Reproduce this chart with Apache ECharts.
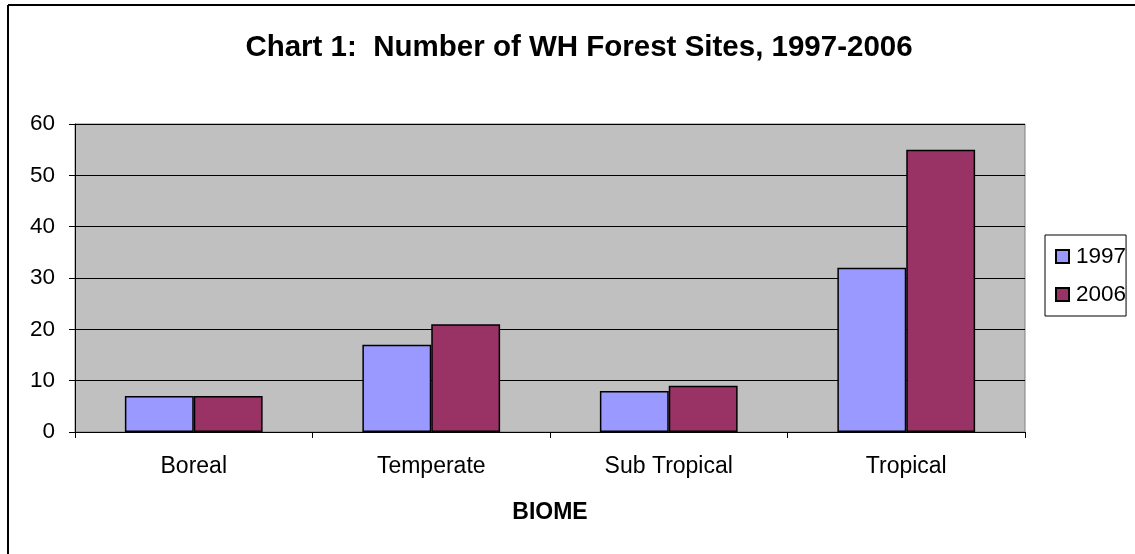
<!DOCTYPE html>
<html>
<head>
<meta charset="utf-8">
<script src="https://cdn.jsdelivr.net/npm/echarts@6/dist/echarts.min.js"></script>
<style>
  html, body { margin: 0; padding: 0; background: #fff; }
  #chart { width: 1135px; height: 554px; }
</style>
</head>
<body>
<div id="chart"></div>
<script>
// data
const biomes = ['Boreal', 'Temperate', 'Sub Tropical', 'Tropical']
const sites1997 = [7, 17, 8, 32]
const sites2006 = [7, 21, 9, 55]
const yTicks = [0, 10, 20, 30, 40, 50, 60]

const font = '"Liberation Sans", Arial, sans-serif'
const myChart = echarts.init(document.getElementById('chart'))

const option = {
  animation: false,
  backgroundColor: '#fff',
  title: {
    text: 'Chart 1:  Number of WH Forest Sites, 1997-2006',
    left: 574,
    top: 28,
    textAlign: 'center',
    textStyle: { fontFamily: font, fontSize: 29.5, fontWeight: 'bold', color: '#000' }
  },
  // outer frame, only left and top edges show in the picture
  graphic: [
    { type: 'line', shape: { x1: 8, y1: 5, x2: 1135, y2: 5 }, style: { stroke: '#000', lineWidth: 2 } },
    { type: 'line', shape: { x1: 8, y1: 5, x2: 8, y2: 554 }, style: { stroke: '#000', lineWidth: 2 } }
  ],
  legend: {
    orient: 'vertical',
    left: 1045,
    top: 235,
    padding: [10, 0, 10, 10],
    itemGap: 15,
    itemWidth: 13,
    itemHeight: 13,
    borderColor: '#000',
    borderWidth: 1,
    backgroundColor: '#fff',
    icon: 'rect',
    textStyle: { fontFamily: font, fontSize: 22.5, color: '#000', padding: [0, 0, 0, 2] },
    data: ['1997', '2006']
  },
  grid: { left: 75, right: 110, top: 124, bottom: 122, containLabel: false,
    show: true, backgroundColor: '#c0c0c0', borderColor: '#808080', borderWidth: 1 },
  xAxis: {
    type: 'category',
    data: biomes,
    name: 'BIOME',
    nameLocation: 'middle',
    nameGap: 69,
    nameTextStyle: { fontFamily: font, fontSize: 23, fontWeight: 'bold', color: '#000' },
    axisLine: { lineStyle: { color: '#000', width: 1 } },
    axisTick: { show: true, length: 6, lineStyle: { color: '#000' } },
    axisLabel: { fontFamily: font, fontSize: 23, color: '#000', margin: 23 }
  },
  yAxis: {
    type: 'value',
    min: yTicks[0],
    max: yTicks[yTicks.length - 1],
    interval: 10,
    axisLine: { show: true, lineStyle: { color: '#000' } },
    axisTick: { show: true, length: 6, lineStyle: { color: '#000' } },
    axisLabel: { fontFamily: font, fontSize: 22.5, color: '#000', margin: 20 },
    splitLine: { lineStyle: { color: '#000', width: 1 } }
  },
  series: [
    {
      name: '1997',
      type: 'bar',
      data: sites1997,
      barGap: '0%',
      barCategoryGap: '42%',
      itemStyle: { color: '#9999ff', borderColor: '#000', borderWidth: 1.5 }
    },
    {
      name: '2006',
      type: 'bar',
      data: sites2006,
      itemStyle: { color: '#993366', borderColor: '#000', borderWidth: 1.5 }
    }
  ]
}

option && myChart.setOption(option)
</script>
</body>
</html>
